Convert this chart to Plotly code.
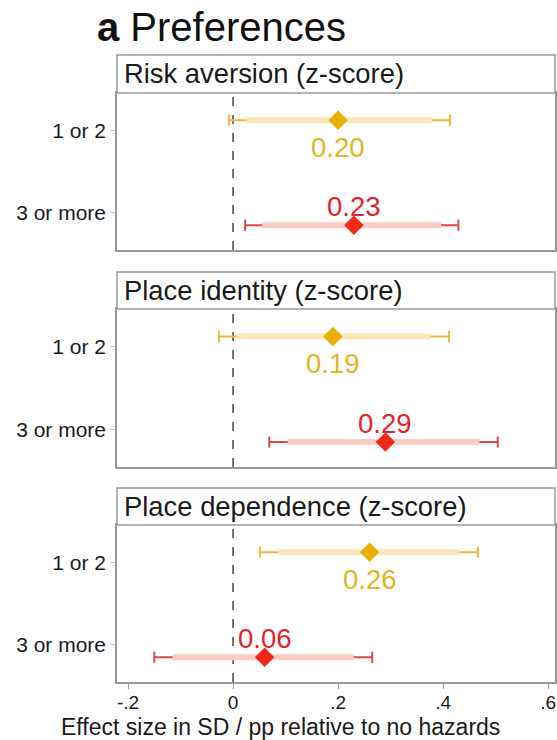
import plotly.graph_objects as go

# Coefficient estimates by number of hazards experienced (vs. no hazards)
outcomes = ["Risk aversion (z-score)", "Place identity (z-score)", "Place dependence (z-score)"]
groups = ["1 or 2", "3 or more"]

est_12 = [0.20, 0.19, 0.26]
lo95_12 = [-0.008, -0.027, 0.051]
hi95_12 = [0.413, 0.411, 0.466]
lo90_12 = [0.026, 0.008, 0.086]
hi90_12 = [0.378, 0.376, 0.431]

est_3p = [0.23, 0.29, 0.06]
lo95_3p = [0.023, 0.069, -0.150]
hi95_3p = [0.429, 0.504, 0.265]
lo90_3p = [0.055, 0.104, -0.115]
hi90_3p = [0.396, 0.469, 0.230]

x_tickvals = [-0.2, 0, 0.2, 0.4, 0.6]
x_ticktext = ["-.2", "0", ".2", ".4", ".6"]

W, H = 557, 740
FONT = "Liberation Sans, Arial, sans-serif"
FRAME = "#9a9a9a"

# pixel layout (top, bottom) of each panel's plot area and header strip
panel_px = [(93, 250), (309, 467), (525, 682)]
strip_px = [(55, 93), (272, 309), (488, 525)]
left_px, right_px = 117, 555

series = [
    dict(est=est_12, lo95=lo95_12, hi95=hi95_12, lo90=lo90_12, hi90=hi90_12, y=1, off=-0.12,
         dark="#E9B93A", pale="#FCE7B6", mark="#EBAE05", txt="#E4B324", shift=-27),
    dict(est=est_3p, lo95=lo95_3p, hi95=hi95_3p, lo90=lo90_3p, hi90=hi90_3p, y=2, off=0.15,
         dark="#DA4A46", pale="#F8CDC5", mark="#EE2A16", txt="#E3232B", shift=19),
]

fig = go.Figure()
annotations = []
shapes = []

for i, title in enumerate(outcomes):
    n = "" if i == 0 else str(i + 1)
    xa, ya = "x" + n, "y" + n
    for s in series:
        yv = s["y"] + s["off"]
        # 95% CI: thin darker line with end caps
        fig.add_trace(go.Scatter(
            x=[s["lo95"][i], s["hi95"][i]], y=[yv, yv], mode="lines+markers",
            line=dict(color=s["dark"], width=2),
            marker=dict(symbol="line-ns", size=8, line=dict(color=s["dark"], width=2)),
            xaxis=xa, yaxis=ya, showlegend=False, hoverinfo="skip"))
        # 90% CI: thick pale band
        fig.add_trace(go.Scatter(
            x=[s["lo90"][i], s["hi90"][i]], y=[yv, yv], mode="lines",
            line=dict(color=s["pale"], width=6),
            xaxis=xa, yaxis=ya, showlegend=False, hoverinfo="skip"))
        # point estimate
        fig.add_trace(go.Scatter(
            x=[s["est"][i]], y=[yv], mode="markers",
            marker=dict(symbol="diamond", size=15, color=s["mark"]),
            xaxis=xa, yaxis=ya, showlegend=False))
        annotations.append(dict(
            x=s["est"][i], y=yv, xref=xa, yref=ya, text=f"{s['est'][i]:.2f}",
            showarrow=False, yshift=s["shift"], xanchor="center", yanchor="middle",
            font=dict(family=FONT, size=27.5, color=s["txt"])))

    # reference line at zero
    shapes.append(dict(type="line", xref=xa, yref=ya + " domain", x0=0, x1=0, y0=0, y1=1,
                       line=dict(color="#444444", width=1.5, dash="dash"), layer="below"))

    # header strip
    st, sb = strip_px[i]
    shapes.append(dict(type="rect", xref="paper", yref="paper",
                       x0=left_px / W, x1=right_px / W, y0=1 - sb / H, y1=1 - st / H,
                       line=dict(color=FRAME, width=1.5), fillcolor="white"))
    annotations.append(dict(x=122 / W, y=1 - (st + sb) / 2 / H, xref="paper", yref="paper",
                            text=title, showarrow=False, xanchor="left", yanchor="middle",
                            font=dict(family=FONT, size=27.4, color="#1a1a1a")))

layout = dict(width=W, height=H, margin=dict(l=0, r=0, t=0, b=0),
              paper_bgcolor="white", plot_bgcolor="white", font=dict(family=FONT, color="#1a1a1a"))

for i in range(3):
    n = "" if i == 0 else str(i + 1)
    pt, pb = panel_px[i]
    last = i == 2
    layout["xaxis" + n] = dict(
        domain=[left_px / W, right_px / W], range=[-0.221, 0.613], anchor="y" + n,
        tickvals=x_tickvals, ticktext=x_ticktext, showticklabels=last,
        ticks="outside" if last else "", ticklen=5, tickcolor=FRAME,
        ticklabelstandoff=-3,
        tickfont=dict(size=19, color="#1a1a1a"),
        showgrid=False, zeroline=False, showline=True, linecolor=FRAME, linewidth=1.5, mirror=True)
    layout["yaxis" + n] = dict(
        domain=[1 - pb / H, 1 - pt / H], range=[2.45, 0.55], anchor="x" + n,
        tickvals=[1, 2], ticktext=groups, ticks="outside", ticklen=5, tickcolor="#bbbbbb",
        tickfont=dict(size=21, color="#1a1a1a"),
        showgrid=False, zeroline=False, showline=True, linecolor=FRAME, linewidth=1.5, mirror=True)

annotations.append(dict(x=95 / W, y=1 - 27 / H, xref="paper", yref="paper",
                        text="<b>a</b> Preferences", showarrow=False, xanchor="left", yanchor="middle",
                        font=dict(family=FONT, size=40, color="#111111")))
annotations.append(dict(x=280 / W, y=1 - 727 / H, xref="paper", yref="paper",
                        text="Effect size in SD / pp relative to no hazards", showarrow=False,
                        xanchor="center", yanchor="middle",
                        font=dict(family=FONT, size=23, color="#1a1a1a")))

layout["annotations"] = annotations
layout["shapes"] = shapes
fig.update_layout(**layout)

fig.write_html("out.html")
